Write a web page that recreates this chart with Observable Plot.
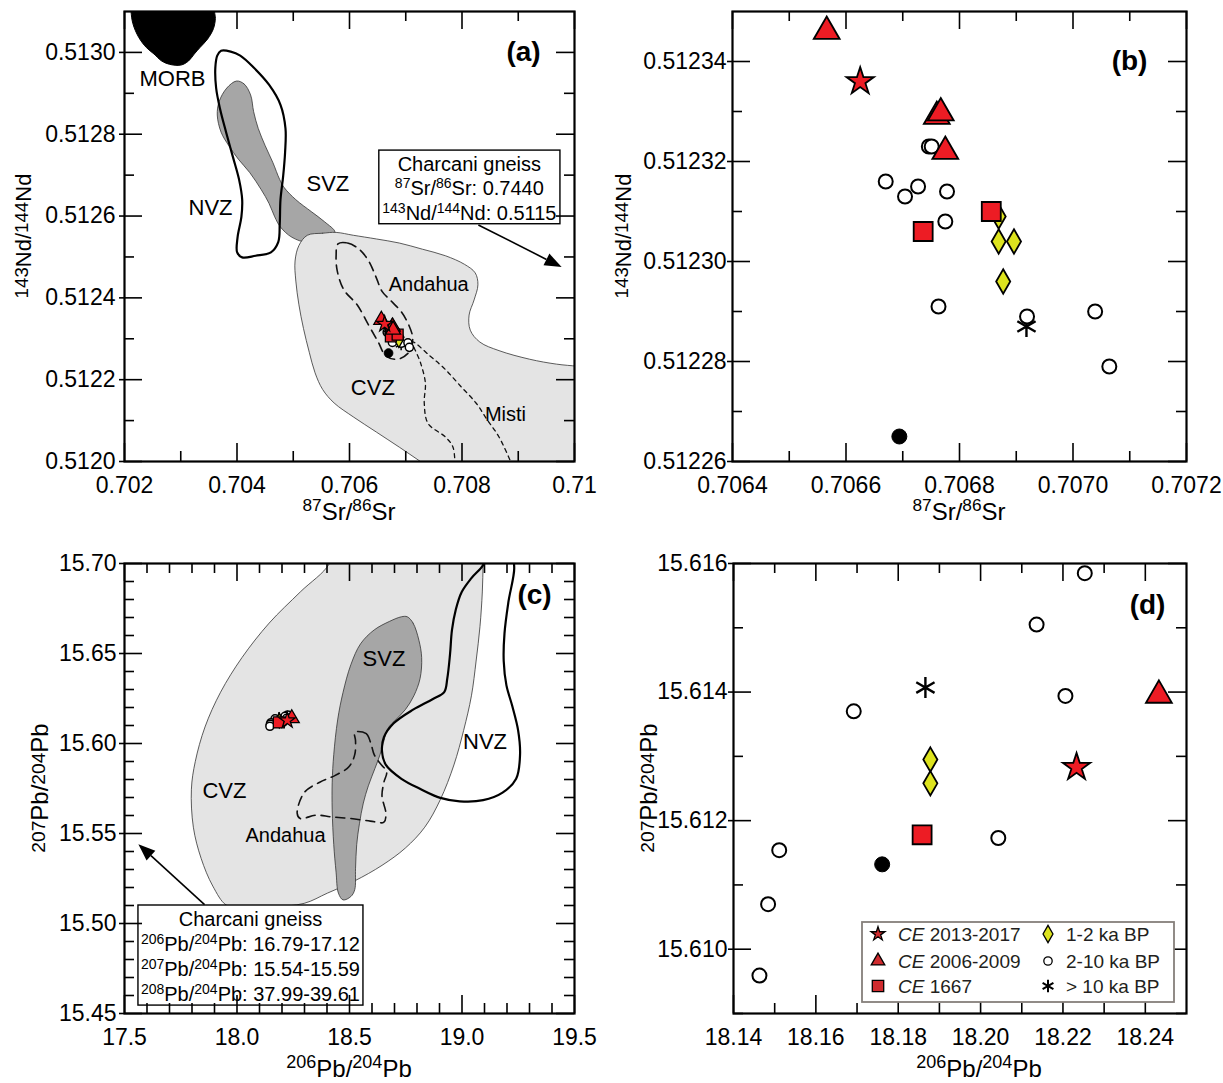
<!DOCTYPE html>
<html><head><meta charset="utf-8">
<script src="https://cdn.jsdelivr.net/npm/d3@7"></script>
<script src="https://cdn.jsdelivr.net/npm/@observablehq/plot@0.6"></script>
<style>
body{margin:0;background:#fff;}
#wrap{position:relative;width:1223px;height:1083px;background:#fff;overflow:hidden;}
#wrap .panel{position:absolute;}
</style></head><body><div id="wrap"></div>
<script>
// ---------------- Sr–Nd data (panels a, b): [87Sr/86Sr, 143Nd/144Nd]
const srNd_CE2013_2017 = [[0.706625, 0.512336]];
const srNd_CE2006_2009 = [[0.706566, 0.512346], [0.706760, 0.512329], [0.706767, 0.5123297], [0.706775, 0.512322]];
const srNd_CE1667 = [[0.706736, 0.512306], [0.706856, 0.512310]];
const srNd_1to2ka = [[0.706869, 0.512309], [0.706869, 0.512304], [0.706896, 0.512304], [0.706877, 0.512296]];
const srNd_2to10ka = [[0.706746, 0.512323], [0.706751, 0.512323], [0.706670, 0.512316], [0.706704, 0.512313], [0.706727, 0.512315], [0.706778, 0.512314], [0.706775, 0.512308], [0.706763, 0.512291], [0.706919, 0.512289], [0.707039, 0.512290], [0.707064, 0.512279]];
const srNd_gt10ka = [[0.706918, 0.512287]];
const srNd_other = [[0.706694, 0.512265]];

// ---------------- Pb data (panels c, d): [206Pb/204Pb, 207Pb/204Pb]
const pb_CE2013_2017 = [[18.2233, 15.61283]];
const pb_CE2006_2009 = [[18.2433, 15.61395]];
const pb_CE1667 = [[18.1858, 15.61178]];
const pb_1to2ka = [[18.1878, 15.61295], [18.1878, 15.61258]];
const pb_2to10ka = [[18.2253, 15.61585], [18.2136, 15.61505], [18.2206, 15.61394], [18.1692, 15.61370], [18.2043, 15.61173], [18.1511, 15.61154], [18.1484, 15.61070], [18.1463, 15.60959]];
const pb_gt10ka = [[18.1866, 15.61407]];
const pb_other = [[18.1761, 15.61132]];

// ---------------- Reference fields, panel (a) (Sr vs Nd)
const fieldMORB = [[0.70210,0.51316],[0.702116,0.51310],[0.70215,0.51307],[0.702252,0.513037],[0.702388,0.513012],[0.702525,0.512996],[0.702661,0.512979],[0.702797,0.512971],[0.703002,0.512969],[0.703138,0.512979],[0.70324,0.512996],[0.703342,0.513012],[0.703479,0.513033],[0.703581,0.513058],[0.703615,0.513083],[0.703601,0.51310],[0.70360,0.51316]];
const fieldNVZa = [[0.703717,0.513004],[0.703888,0.513002],[0.704058,0.512992],[0.704296,0.512963],[0.704569,0.512921],[0.704773,0.512872],[0.704862,0.512814],[0.704855,0.512756],[0.704821,0.512698],[0.704773,0.512640],[0.704760,0.512582],[0.704733,0.512536],[0.704603,0.512511],[0.704330,0.512503],[0.704092,0.512499],[0.704003,0.512511],[0.704010,0.512548],[0.704078,0.512598],[0.704092,0.512640],[0.704037,0.512689],[0.703922,0.512747],[0.703806,0.512805],[0.703697,0.512863],[0.703629,0.512913],[0.703615,0.512963],[0.703649,0.512992]];
const fieldSVZa = [[0.703990,0.512930],[0.704126,0.512923],[0.704242,0.512896],[0.704296,0.512855],[0.704378,0.512814],[0.704501,0.512772],[0.704637,0.512731],[0.704760,0.512689],[0.704842,0.512669],[0.705046,0.512640],[0.705319,0.512611],[0.705557,0.512586],[0.705741,0.512561],[0.705659,0.512548],[0.705250,0.512536],[0.704978,0.512548],[0.704773,0.512573],[0.704671,0.512598],[0.704569,0.512631],[0.704433,0.512664],[0.704228,0.512706],[0.704024,0.512739],[0.703854,0.512772],[0.703717,0.512805],[0.703649,0.512847],[0.703683,0.512880],[0.703819,0.512913]];
const fieldCVZa = [[0.705250,0.512553],[0.705523,0.512558],[0.705762,0.512560],[0.706068,0.512553],[0.706477,0.512544],[0.706886,0.512534],[0.707295,0.512519],[0.707704,0.512503],[0.708044,0.512482],[0.708235,0.512461],[0.708283,0.512432],[0.708215,0.512395],[0.708126,0.512358],[0.708147,0.512321],[0.708317,0.512292],[0.708658,0.512271],[0.709203,0.512250],[0.709680,0.512238],[0.71005,0.512233],[0.7103,0.51223],[0.7103,0.51195],[0.7077,0.511959],[0.707261,0.512],[0.706886,0.512035],[0.706477,0.512072],[0.706068,0.512109],[0.705727,0.512143],[0.705523,0.512176],[0.705387,0.512217],[0.705285,0.512267],[0.705182,0.512325],[0.705101,0.512383],[0.705046,0.512441],[0.705032,0.512490],[0.705101,0.512528]];
const fieldAndahuaA = [[0.705796,0.512532],[0.705966,0.512534],[0.706170,0.512519],[0.706341,0.512490],[0.706477,0.512449],[0.706579,0.512416],[0.706750,0.512391],[0.706920,0.512366],[0.707056,0.512333],[0.707124,0.512300],[0.707056,0.512267],[0.706852,0.512250],[0.706647,0.512258],[0.706511,0.512292],[0.706341,0.512333],[0.706136,0.512383],[0.705898,0.512420],[0.705782,0.512466],[0.705762,0.512503]];
const fieldMisti = [[0.707874,0.511990],[0.707840,0.512035],[0.707704,0.512060],[0.707397,0.512093],[0.707329,0.512143],[0.707349,0.512192],[0.707261,0.512242],[0.707124,0.512292],[0.707431,0.512258],[0.707704,0.512225],[0.707976,0.512184],[0.708249,0.512143],[0.708453,0.512101],[0.708658,0.512060],[0.708896,0.511990]];

// ---------------- Reference fields, panel (c) (206Pb vs 207Pb)
const fieldCVZc = [[18.44,15.715],[19.096,15.715],[19.0938,15.70],[19.0903,15.6842],[19.0799,15.6650],[19.0627,15.6458],[19.0419,15.6265],[19.0073,15.6073],[18.9641,15.5881],[18.9036,15.5688],[18.8345,15.5535],[18.7481,15.5419],[18.6444,15.5323],[18.5233,15.5237],[18.4023,15.5169],[18.2986,15.5112],[18.1603,15.5092],[18.0220,15.5090],[17.9529,15.5102],[17.8924,15.5208],[17.8405,15.5362],[17.8060,15.5535],[17.7973,15.5746],[17.8146,15.5900],[17.8578,15.6092],[17.9270,15.6285],[18.0220,15.6477],[18.1430,15.6669],[18.2813,15.6842],[18.4110,15.70]];
const fieldSVZc = [[18.7567,15.6704],[18.7826,15.6669],[18.8086,15.6573],[18.8207,15.6477],[18.8138,15.6362],[18.7861,15.6265],[18.7481,15.6188],[18.7048,15.6131],[18.6703,15.6083],[18.6530,15.6015],[18.6357,15.5938],[18.6132,15.5862],[18.5838,15.5765],[18.5614,15.5669],[18.5441,15.5554],[18.5320,15.5438],[18.5268,15.5304],[18.5233,15.5188],[18.5061,15.5150],[18.4715,15.5131],[18.4507,15.5169],[18.4404,15.5285],[18.4300,15.5438],[18.4231,15.5631],[18.4231,15.5785],[18.4300,15.5938],[18.4473,15.6131],[18.4715,15.6285],[18.5061,15.6438],[18.5493,15.6554],[18.6098,15.6631],[18.6789,15.6679],[18.7308,15.6704]];
const fieldNVZc = [[19.1000,15.7035],[19.0938,15.6992],[19.0419,15.6919],[18.9987,15.6842],[18.9728,15.6746],[18.9555,15.6631],[18.9468,15.6496],[18.9347,15.6362],[18.9209,15.6285],[18.8690,15.6246],[18.7826,15.6188],[18.6962,15.6112],[18.6530,15.6035],[18.6444,15.5958],[18.6617,15.5881],[18.7308,15.5804],[18.8172,15.5746],[18.9036,15.5698],[18.9900,15.5679],[19.0938,15.5685],[19.1802,15.5727],[19.2407,15.5804],[19.2580,15.5938],[19.2494,15.6073],[19.2234,15.6208],[19.1975,15.6323],[19.1854,15.6458],[19.1889,15.6612],[19.2061,15.6785],[19.2321,15.6977],[19.2200,15.7035]];
const fieldAndahuaC = [[18.5233,15.6063],[18.5752,15.6054],[18.5959,15.5996],[18.6098,15.5938],[18.6357,15.5890],[18.6651,15.5842],[18.6530,15.5785],[18.6444,15.5708],[18.6617,15.5612],[18.6530,15.5563],[18.5925,15.5569],[18.5061,15.5583],[18.4196,15.5592],[18.3505,15.5602],[18.2813,15.5583],[18.2675,15.5612],[18.2986,15.5727],[18.3678,15.5785],[18.4369,15.5823],[18.4974,15.5871],[18.5233,15.5938],[18.5268,15.6015]];

// ---------------- Field labels
const labelsA_big = [["MORB",0.702853,0.512936],["NVZ",0.703529,0.512619],["SVZ",0.705615,0.512678],["CVZ",0.706415,0.512181]];
const labelsA_small = [["Andahua",0.707408,0.512432],["Misti",0.708773,0.512115]];
const labelsC_big = [["SVZ",18.653,15.6467],["NVZ",19.1025,15.6006],["CVZ",17.944,15.5737]];
const labelsC_small = [["Andahua",18.2157,15.5487]];

// ---------------- Annotation boxes (Charcani gneiss)
const boxA = {x1:0.70653, x2:0.70975, y1:0.51258, y2:0.51276, cx:0.70814, lines:[0.512727,0.512668,0.512606], arrow:[[0.70830,0.512577],[0.70978,0.512474]]};
const boxAText = [[["Charcani gneiss",0]],[["87",1],["Sr/",0],["86",1],["Sr: 0.7440",0]],[["143",1],["Nd/",0],["144",1],["Nd: 0.5115",0]]];
const boxC = {x1:17.562, x2:18.562, y1:15.4544, y2:15.5100, cx:18.062, lines:[15.5022,15.4883,15.4744,15.4606], arrow:[[17.858,15.5102],[17.564,15.5438]]};
const boxCText = [[["Charcani gneiss",0]],[["206",1],["Pb/",0],["204",1],["Pb: 16.79-17.12",0]],[["207",1],["Pb/",0],["204",1],["Pb: 15.54-15.59",0]],[["208",1],["Pb/",0],["204",1],["Pb: 37.99-39.61",0]]];

// ---------------- Axes: domains, ticks, tick labels
const aX = [0.702, 0.710], aY = [0.5120, 0.5131];
const aXMaj = [0.702,0.704,0.706,0.708,0.710], aXLab = ["0.702","0.704","0.706","0.708","0.71"], aXMin = [0.703,0.705,0.707,0.709];
const aYMaj = [0.5120,0.5122,0.5124,0.5126,0.5128,0.5130], aYLab = ["0.5120","0.5122","0.5124","0.5126","0.5128","0.5130"], aYMin = [0.5121,0.5123,0.5125,0.5127,0.5129];
const bX = [0.7064, 0.7072], bY = [0.51226, 0.51235];
const bXMaj = [0.7064,0.7066,0.7068,0.7070,0.7072], bXLab = ["0.7064","0.7066","0.7068","0.7070","0.7072"], bXMin = [0.7065,0.7067,0.7069,0.7071];
const bYMaj = [0.51226,0.51228,0.51230,0.51232,0.51234], bYLab = ["0.51226","0.51228","0.51230","0.51232","0.51234"], bYMin = [0.51227,0.51229,0.51231,0.51233];
const cX = [17.5, 19.5], cY = [15.45, 15.70];
const cXMaj = [17.5,18.0,18.5,19.0,19.5], cXLab = ["17.5","18.0","18.5","19.0","19.5"];
const cXMin = [17.6,17.7,17.8,17.9,18.1,18.2,18.3,18.4,18.6,18.7,18.8,18.9,19.1,19.2,19.3,19.4];
const cYMaj = [15.45,15.50,15.55,15.60,15.65,15.70], cYLab = ["15.45","15.50","15.55","15.60","15.65","15.70"];
const cYMin = [15.46,15.47,15.48,15.49,15.51,15.52,15.53,15.54,15.56,15.57,15.58,15.59,15.61,15.62,15.63,15.64,15.66,15.67,15.68,15.69];
const dX = [18.14, 18.25], dY = [15.609, 15.616];
const dXMaj = [18.14,18.16,18.18,18.20,18.22,18.24], dXLab = ["18.14","18.16","18.18","18.20","18.22","18.24"], dXMin = [18.15,18.17,18.19,18.21,18.23];
const dYMaj = [15.610,15.612,15.614,15.616], dYLab = ["15.610","15.612","15.614","15.616"], dYMin = [15.609,15.611,15.613,15.615];

// ---------------- Legend (panel d)
const legendItems = [
  ["star","CE"," 2013-2017"],["triangle","CE"," 2006-2009"],["square","CE"," 1667"],
  ["diamond","","1-2 ka BP"],["circle","","2-10 ka BP"],["asterisk","","> 10 ka BP"]
];

// ================= drawing =================
const FONT = "'Liberation Sans', Arial, Helvetica, sans-serif";
const RED = "#ed1c24", YEL = "#dde31e", LIGHT = "#e4e4e4", DARK = "#a6a6a6";
const P = d => d[0], Q = d => d[1];
const baseStyle = {fontFamily: FONT, fontSize: "22px", color: "black", background: "white", overflow: "visible"};
const wrap = document.getElementById("wrap");

function fmt(maj, lab) { return d => { const i = maj.findIndex(v => Math.abs(v - d) < 1e-9); return i >= 0 ? lab[i] : ""; }; }

// inward tick marks on all four sides (lengths in px converted to data units of the frame)
function frameTicks(xd, yd, xMaj, xMin, yMaj, yMin, w, h) {
  const kx = (xd[1] - xd[0]) / w, ky = (yd[1] - yd[0]) / h;
  const st = {stroke: "black", strokeWidth: 1.6, strokeLinecap: "butt"};
  const LM = 18, Lm = 10, OUT = 5;
  return [
    Plot.ruleX(xMaj, {x: d => d, y1: yd[0], y2: yd[0] + LM * ky, ...st}),
    Plot.ruleX(xMin, {x: d => d, y1: yd[0], y2: yd[0] + Lm * ky, ...st}),
    Plot.ruleX(xMaj, {x: d => d, y1: yd[1], y2: yd[1] - LM * ky, ...st}),
    Plot.ruleX(xMin, {x: d => d, y1: yd[1], y2: yd[1] - Lm * ky, ...st}),
    Plot.ruleY(yMaj, {y: d => d, x1: xd[0] - OUT * kx, x2: xd[0] + LM * kx, ...st}),
    Plot.ruleY(yMin, {y: d => d, x1: xd[0], x2: xd[0] + Lm * kx, ...st}),
    Plot.ruleY(yMaj, {y: d => d, x1: xd[1], x2: xd[1] - LM * kx, ...st}),
    Plot.ruleY(yMin, {y: d => d, x1: xd[1], x2: xd[1] - Lm * kx, ...st}),
    Plot.frame({stroke: "black", strokeWidth: 2.2})
  ];
}
function axes(xMaj, xLab, yMaj, yLab, padY) {
  return [
    Plot.axisX(xMaj, {anchor: "bottom", tickSize: 0, tickPadding: 15, tickFormat: fmt(xMaj, xLab), fontSize: 23, label: null}),
    Plot.axisY(yMaj, {anchor: "left", tickSize: 0, tickPadding: padY, tickFormat: fmt(yMaj, yLab), fontSize: 23, label: null})
  ];
}
function sampleMarks(s, k) {
  const sw = k < 1 ? 1.3 : 1.8;
  return [
    Plot.dot(s.gt10, {x: P, y: Q, symbol: "asterisk", r: 10 * k, stroke: "black", strokeWidth: k < 1 ? 1.5 : 2.4}),
    Plot.dot(s.other, {x: P, y: Q, symbol: "circle", r: 7.5 * k, fill: "black", stroke: "black", strokeWidth: 1}),
    Plot.dot(s.ka2_10, {x: P, y: Q, symbol: "circle", r: 7 * k, fill: "white", stroke: "black", strokeWidth: sw + 0.2}),
    Plot.dot(s.ka1_2, {x: P, y: Q, symbol: "diamond", r: 7.4 * k, fill: YEL, stroke: "black", strokeWidth: sw}),
    Plot.dot(s.ce1667, {x: P, y: Q, symbol: "square", r: 10.7 * k, fill: RED, stroke: "black", strokeWidth: sw}),
    Plot.dot(s.ce2006, {x: P, y: Q, symbol: "triangle", r: 9.6 * k, fill: RED, stroke: "black", strokeWidth: sw}),
    Plot.dot(s.ce2013, {x: P, y: Q, symbol: "star", r: 8.6 * k, fill: RED, stroke: "black", strokeWidth: sw})
  ];
}
const srNdSets = {ce2013: srNd_CE2013_2017, ce2006: srNd_CE2006_2009, ce1667: srNd_CE1667, ka1_2: srNd_1to2ka, ka2_10: srNd_2to10ka, gt10: srNd_gt10ka, other: srNd_other};
const pbSets = {ce2013: pb_CE2013_2017, ce2006: pb_CE2006_2009, ce1667: pb_CE1667, ka1_2: pb_1to2ka, ka2_10: pb_2to10ka, gt10: pb_gt10ka, other: pb_other};

function addRich(svg, x, y, parts, size, opt = {}) {
  const {anchor = "middle", rotate = 0, supScale = 0.72, raise = 0.38} = opt;
  const t = svg.append("text").attr("x", x).attr("y", y).attr("text-anchor", anchor)
    .attr("font-size", size).attr("fill", "black").attr("font-family", FONT).style("white-space", "pre");
  if (rotate) t.attr("transform", `rotate(${rotate},${x},${y})`);
  let up = 0;
  for (const [s, sup] of parts) {
    const ts = t.append("tspan").text(s);
    const target = sup ? -raise * size : 0;
    if (target !== up) { ts.attr("dy", target - up); up = target; }
    if (sup) ts.attr("font-size", size * supScale);
  }
  return t;
}
function place(plot, left, top) {
  const div = document.createElement("div");
  div.className = "panel"; div.style.left = left + "px"; div.style.top = top + "px";
  div.appendChild(plot); wrap.appendChild(div);
  return d3.select(plot);
}
function charcani(plot, svg, box, text) {
  const x = plot.scale("x"), y = plot.scale("y");
  box.lines.forEach((ly, i) => addRich(svg, x.apply(box.cx), y.apply(ly) + 7, text[i], 20, {supScale: 0.7, raise: 0.36}));
  const [a, b] = box.arrow;
  const x1 = x.apply(a[0]), y1 = y.apply(a[1]), x2 = x.apply(b[0]), y2 = y.apply(b[1]);
  const ang = Math.atan2(y2 - y1, x2 - x1), L = 17, W = 6.5;
  const bx = x2 - L * Math.cos(ang), by = y2 - L * Math.sin(ang);
  svg.append("line").attr("x1", x1).attr("y1", y1).attr("x2", bx).attr("y2", by).attr("stroke", "black").attr("stroke-width", 1.6);
  svg.append("path").attr("fill", "black").attr("d",
    `M${x2},${y2}L${bx - W * Math.sin(ang)},${by + W * Math.cos(ang)}L${bx + W * Math.sin(ang)},${by - W * Math.cos(ang)}Z`);
}
const txt = (arr, size, extra = {}) => Plot.text(arr, {x: d => d[1], y: d => d[2], text: d => d[0], fontSize: size, fill: "black", ...extra});
const panelLabel = (s, dx, dy) => Plot.text([s], {text: d => d, frameAnchor: "top-right", dx: -dx, dy: dy, fontSize: 28, fontWeight: "bold", textAnchor: "middle", lineAnchor: "middle"});

const srT = [["87",1],["Sr/",0],["86",1],["Sr",0]];
const ndT = [["143",1],["Nd/",0],["144",1],["Nd",0]];
const pb6T = [["206",1],["Pb/",0],["204",1],["Pb",0]];
const pb7T = [["207",1],["Pb/",0],["204",1],["Pb",0]];

// ----- Panel (a)
const plotA = Plot.plot({
  width: 611, height: 540, marginLeft: 124, marginRight: 37, marginTop: 11, marginBottom: 79,
  x: {domain: aX}, y: {domain: aY}, style: baseStyle,
  marks: [
    Plot.line(fieldSVZa, {x: P, y: Q, curve: "catmull-rom-closed", fill: DARK, stroke: "#333", strokeWidth: 0.8, clip: true}),
    Plot.line(fieldCVZa, {x: P, y: Q, curve: "catmull-rom-closed", fill: LIGHT, stroke: "#333", strokeWidth: 0.8, clip: true}),
    Plot.line(fieldMORB, {x: P, y: Q, curve: "catmull-rom-closed", fill: "black", stroke: "black", strokeWidth: 1, clip: true}),
    Plot.line(fieldNVZa, {x: P, y: Q, curve: "catmull-rom-closed", stroke: "black", strokeWidth: 2.2, clip: true}),
    Plot.line(fieldAndahuaA, {x: P, y: Q, curve: "catmull-rom-closed", stroke: "#111", strokeWidth: 1.6, strokeDasharray: "9,6", clip: true}),
    Plot.line(fieldMisti, {x: P, y: Q, curve: "catmull-rom", stroke: "#111", strokeWidth: 1.3, strokeDasharray: "4,4", clip: true}),
    txt(labelsA_big, 22), txt(labelsA_small, 20),
    Plot.rect([boxA], {x1: "x1", x2: "x2", y1: "y1", y2: "y2", fill: "white", stroke: "black", strokeWidth: 1.4}),
    ...sampleMarks(srNdSets, 0.58),
    ...axes(aXMaj, aXLab, aYMaj, aYLab, 9),
    ...frameTicks(aX, aY, aXMaj, aXMin, aYMaj, aYMin, 450, 450),
    panelLabel("(a)", 51, 41)
  ]
});
const svgA = place(plotA, 0, 0);
charcani(plotA, svgA, boxA, boxAText);
addRich(svgA, 349, 520, srT, 24, {supScale: 0.72, raise: 0.36});
addRich(svgA, 31, 236, ndT, 22, {rotate: -90, supScale: 0.85, raise: 0.12});

// ----- Panel (b)
const plotB = Plot.plot({
  width: 612, height: 540, marginLeft: 121, marginRight: 37, marginTop: 11, marginBottom: 79,
  x: {domain: bX}, y: {domain: bY}, style: baseStyle,
  marks: [
    ...sampleMarks(srNdSets, 1),
    ...axes(bXMaj, bXLab, bYMaj, bYLab, 6),
    ...frameTicks(bX, bY, bXMaj, bXMin, bYMaj, bYMin, 454, 450),
    panelLabel("(b)", 57, 50)
  ]
});
const svgB = place(plotB, 611, 0);
addRich(svgB, 348, 520, srT, 24, {supScale: 0.72, raise: 0.36});
addRich(svgB, 20, 236, ndT, 22, {rotate: -90, supScale: 0.85, raise: 0.12});

// ----- Panel (c)
const plotC = Plot.plot({
  width: 611, height: 543, marginLeft: 124, marginRight: 37, marginTop: 23, marginBottom: 70,
  x: {domain: cX}, y: {domain: cY}, style: baseStyle,
  marks: [
    Plot.line(fieldCVZc, {x: P, y: Q, curve: "catmull-rom-closed", fill: LIGHT, stroke: "#333", strokeWidth: 0.8, clip: true}),
    Plot.line(fieldSVZc, {x: P, y: Q, curve: "catmull-rom-closed", fill: DARK, stroke: "#333", strokeWidth: 0.8, clip: true}),
    Plot.line(fieldNVZc, {x: P, y: Q, curve: "catmull-rom-closed", stroke: "black", strokeWidth: 2.2, clip: true}),
    Plot.line(fieldAndahuaC, {x: P, y: Q, curve: "catmull-rom-closed", stroke: "#111", strokeWidth: 1.6, strokeDasharray: "9,6", clip: true}),
    txt(labelsC_big, 22), txt(labelsC_small, 20),
    Plot.rect([boxC], {x1: "x1", x2: "x2", y1: "y1", y2: "y2", fill: "white", stroke: "black", strokeWidth: 1.4}),
    ...sampleMarks(pbSets, 0.58),
    ...axes(cXMaj, cXLab, cYMaj, cYLab, 8),
    ...frameTicks(cX, cY, cXMaj, cXMin, cYMaj, cYMin, 450, 450),
    panelLabel("(c)", 40, 32)
  ]
});
const svgC = place(plotC, 0, 540);
charcani(plotC, svgC, boxC, boxCText);
addRich(svgC, 349, 537, pb6T, 24, {supScale: 0.75, raise: 0.36});
addRich(svgC, 48, 248, pb7T, 24, {rotate: -90, supScale: 0.8, raise: 0.12});

// ----- Panel (d)
const plotD = Plot.plot({
  width: 612, height: 543, marginLeft: 122, marginRight: 37, marginTop: 23, marginBottom: 70,
  x: {domain: dX}, y: {domain: dY}, style: baseStyle,
  marks: [
    ...sampleMarks(pbSets, 1),
    ...axes(dXMaj, dXLab, dYMaj, dYLab, 6),
    ...frameTicks(dX, dY, dXMaj, dXMin, dYMaj, dYMin, 453, 450),
    panelLabel("(d)", 39, 42)
  ]
});
const svgD = place(plotD, 611, 540);
addRich(svgD, 368, 537, pb6T, 24, {supScale: 0.75, raise: 0.36});
addRich(svgD, 46, 248, pb7T, 24, {rotate: -90, supScale: 0.8, raise: 0.12});

// legend in (d)
(function legend() {
  const g = svgD.append("g");
  g.append("rect").attr("x", 251).attr("y", 382).attr("width", 312).attr("height", 80)
    .attr("fill", "white").attr("stroke", "#857f7b").attr("stroke-width", 1.8);
  const rows = [394, 421, 446], cols = [[267, 287], [437, 455]];
  const sym = {star: [d3.symbolStar, 60, "#cf2b2e"], triangle: [d3.symbolTriangle, 80, "#cf2b2e"], square: [d3.symbolSquare, 130, "#cf2b2e"],
    diamond: [d3.symbolDiamond, 85, YEL], circle: [d3.symbolCircle, 55, "white"], asterisk: [d3.symbolAsterisk, 110, "none"]};
  legendItems.forEach(([s, it, rest], i) => {
    const c = cols[Math.floor(i / 3)], r = rows[i % 3];
    const [type, size, fill] = sym[s];
    g.append("path").attr("d", d3.symbol(type, size)()).attr("transform", `translate(${c[0]},${r})`)
      .attr("fill", fill).attr("stroke", "black").attr("stroke-width", s === "asterisk" ? 2 : 1.3);
    const t = g.append("text").attr("x", c[1]).attr("y", r + 6.5).attr("font-size", 19).attr("fill", "#231f20")
      .attr("text-anchor", "start").attr("font-family", FONT).style("white-space", "pre");
    if (it) t.append("tspan").attr("font-style", "italic").text(it);
    t.append("tspan").text(rest);
  });
})();
</script></body></html>
